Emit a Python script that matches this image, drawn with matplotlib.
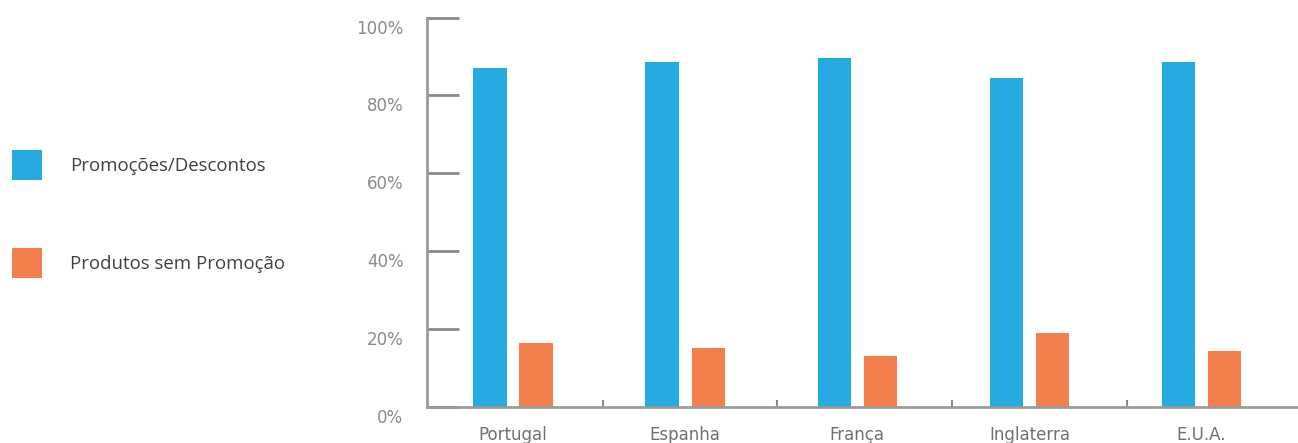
import numpy as np
import matplotlib
matplotlib.use('Agg')
import matplotlib.pyplot as plt
from matplotlib.transforms import ScaledTranslation

# Share of purchases per country (%)
paises = ['Portugal', 'Espanha', 'França', 'Inglaterra', 'E.U.A.']
promocoes = [87.1, 88.5, 89.7, 84.5, 88.5]
sem_promocao = [16.5, 15.1, 13.1, 19.1, 14.5]
y_ticks = [0, 20, 40, 60, 80, 100]
series_labels = ['Promoções/Descontos', 'Produtos sem Promoção']

azul = '#25AAE1'
laranja = '#F37F4C'
cinza = '#8a8a8a'

fig = plt.figure(figsize=(12.98, 4.43), dpi=100)
ax = fig.add_axes([427 / 1298, 36 / 443, 1 - 427 / 1298, (407 - 17.5) / 443])

x = np.arange(len(paises))
w = 0.194
b1 = ax.bar(x - 0.134, promocoes, w, color=azul, label=series_labels[0])
b2 = ax.bar(x + 0.134, sem_promocao, w, color=laranja, label=series_labels[1])

ax.set_xlim(-0.5, 4.56)
ax.set_ylim(0, 100)

for s in ['top', 'right']:
    ax.spines[s].set_visible(False)
for s in ['left', 'bottom']:
    ax.spines[s].set_color('#9a9a9a')
    ax.spines[s].set_linewidth(2)

ax.set_yticks(y_ticks)
ax.set_yticklabels([f'{v}%' for v in y_ticks])
ax.tick_params(axis='y', direction='in', length=23, width=2, color='#8a8a8a',
               pad=17, labelsize=12, labelcolor=cinza)
# tick labels sit a little below their tick marks
offset = ScaledTranslation(0, -0.09, fig.dpi_scale_trans)
for lab in ax.get_yticklabels():
    lab.set_transform(lab.get_transform() + offset)

ax.set_xticks(x)
ax.set_xticklabels(paises)
ax.tick_params(axis='x', length=0, pad=14, labelsize=12, labelcolor='#707070')
ax.set_xticks(0.52 + 1.015 * x[:-1], minor=True)
ax.tick_params(axis='x', which='minor', direction='in', length=5, width=1.5, color='#8a8a8a')

fig.legend(handles=[b1, b2], labels=series_labels, loc='upper left',
           bbox_to_anchor=(12 / 1298, 1 - 150 / 443), frameon=False,
           prop={'family': 'Open Sans', 'size': 13.4},
           handlelength=1.61, handleheight=2.1, handletextpad=1.5,
           labelspacing=3.65, borderpad=0, borderaxespad=0, labelcolor='#404040')

fig.savefig('out.png', dpi=100)
